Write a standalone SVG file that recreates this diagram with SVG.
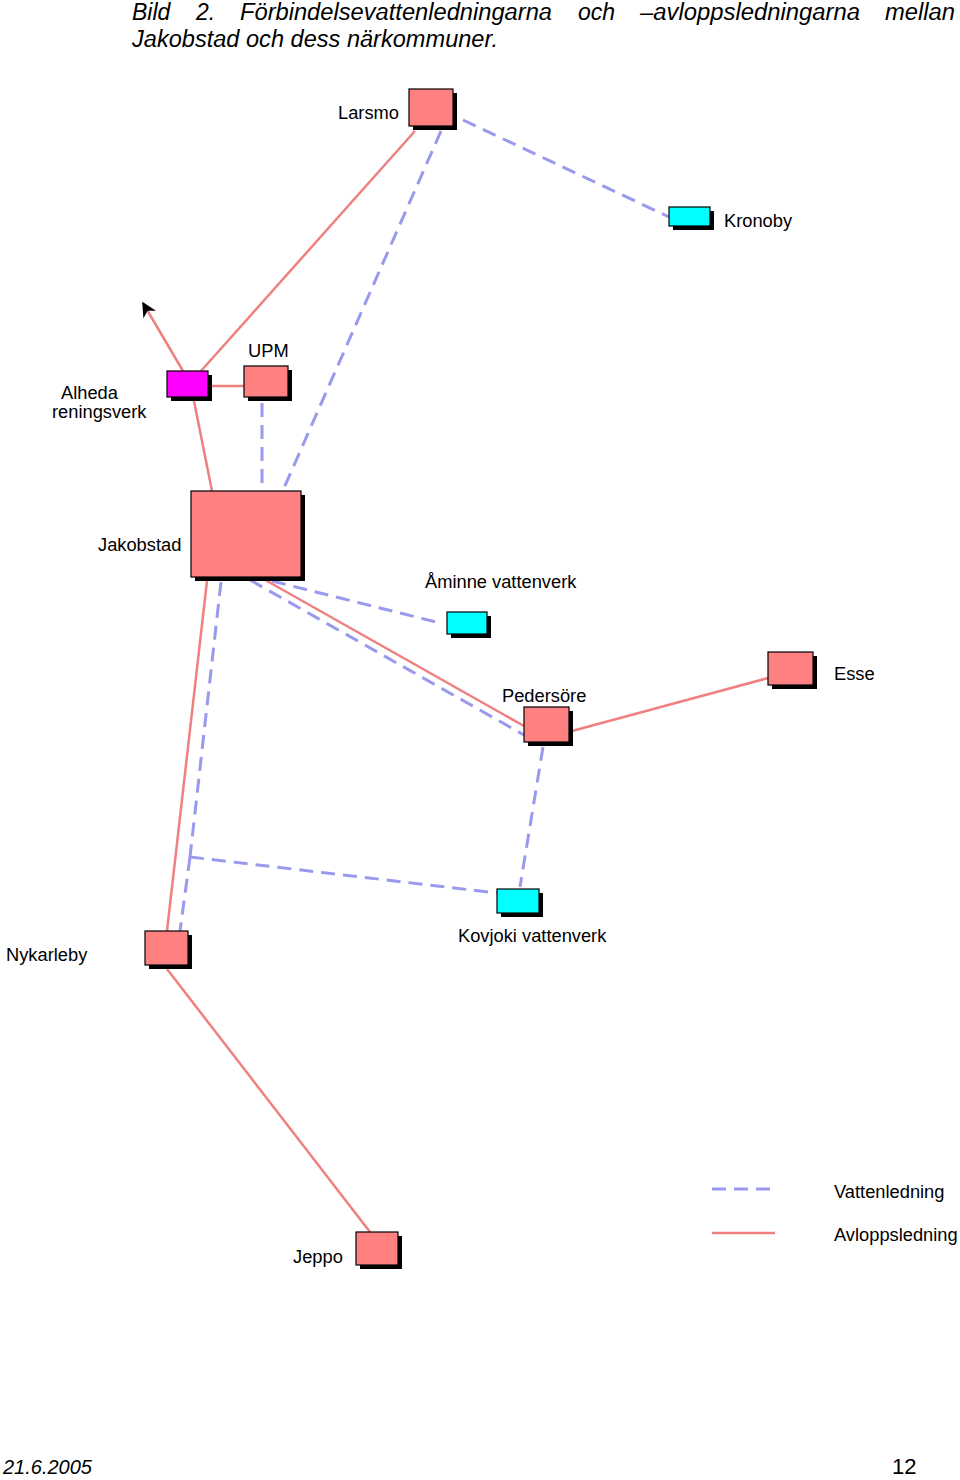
<svg xmlns="http://www.w3.org/2000/svg" width="960" height="1480" viewBox="0 0 960 1480">
<style>
.sh{fill:#000}
.r{fill:#FF8080;stroke:#000;stroke-width:1.2}
.m{fill:#FF00FF;stroke:#000;stroke-width:1.2}
.c{fill:#00FFFF;stroke:#000;stroke-width:1.2}
.lbl{font-family:"Liberation Sans",Arial,sans-serif;font-size:18.3px;fill:#000}
.ttl{font-family:"Liberation Sans",Arial,sans-serif;font-size:23px;font-style:italic;fill:#000}
.av{stroke:#F08080;stroke-width:2.5;fill:none}
.va{stroke:#9999EE;stroke-width:3;fill:none;stroke-dasharray:14 8}
</style>
<defs>
<marker id="arr" viewBox="0 0 10 10" refX="9" refY="5" markerWidth="6" markerHeight="6" orient="auto" markerUnits="strokeWidth">
<path d="M0,0 L10,5 L0,10 L3,5 Z" fill="#000"/>
</marker>
</defs>
<rect width="960" height="1480" fill="#fff"/>
<g id="title" class="ttl">
<text x="132" y="20">Bild</text>
<text x="196" y="20">2.</text>
<text x="240" y="20" textLength="312" lengthAdjust="spacingAndGlyphs">Förbindelsevattenledningarna</text>
<text x="578" y="20">och</text>
<text x="640" y="20" textLength="220" lengthAdjust="spacingAndGlyphs">–avloppsledningarna</text>
<text x="885" y="20" textLength="70" lengthAdjust="spacingAndGlyphs">mellan</text>
<text x="132" y="47" textLength="366" lengthAdjust="spacingAndGlyphs">Jakobstad och dess närkommuner.</text>
</g>
<g id="connectors">
<line class="av" x1="415" y1="131" x2="201" y2="371"/>
<line class="av" x1="183" y1="371" x2="143" y2="303" marker-end="url(#arr)"/>
<line class="av" x1="208" y1="386" x2="244" y2="386"/>
<line class="av" x1="194" y1="401" x2="212" y2="491"/>
<line class="av" x1="260" y1="577" x2="524" y2="726"/>
<line class="av" x1="207" y1="581" x2="167" y2="931"/>
<line class="av" x1="572" y1="731" x2="768" y2="678"/>
<line class="av" x1="167" y1="969" x2="370" y2="1232"/>
<line class="va" x1="463" y1="120" x2="669" y2="217"/>
<line class="va" x1="441" y1="131" x2="284" y2="488"/>
<line class="va" x1="262" y1="403" x2="262" y2="490"/>
<line class="va" x1="272" y1="581" x2="440" y2="623"/>
<line class="va" x1="250" y1="580" x2="524" y2="735"/>
<line class="va" x1="543" y1="747" x2="520" y2="887"/>
<line class="va" x1="221" y1="582" x2="190" y2="857"/>
<line class="va" x1="190" y1="857" x2="497" y2="893"/>
<line class="va" x1="190" y1="857" x2="180" y2="931"/>
<line class="va" x1="712" y1="1189" x2="774" y2="1189"/>
<line class="av" x1="712" y1="1233" x2="775" y2="1233"/>
</g>
<g id="larsmo">
<rect class="sh" x="413" y="93" width="44" height="37"/>
<rect class="r" x="409" y="89" width="44" height="37"/>
<text class="lbl" x="338" y="119">Larsmo</text>
</g>
<g id="kronoby">
<rect class="sh" x="673" y="211" width="41" height="19"/>
<rect class="c" x="669" y="207" width="41" height="19"/>
<text class="lbl" x="724" y="227">Kronoby</text>
</g>
<g id="alheda">
<rect class="sh" x="171" y="375" width="41" height="26"/>
<rect class="m" x="167" y="371" width="41" height="26"/>
<text class="lbl" x="61" y="399">Alheda</text>
<text class="lbl" x="52" y="418">reningsverk</text>
</g>
<g id="upm">
<rect class="sh" x="248" y="370" width="44" height="31"/>
<rect class="r" x="244" y="366" width="44" height="31"/>
<text class="lbl" x="248" y="357">UPM</text>
</g>
<g id="jakobstad">
<rect class="sh" x="195" y="495" width="110" height="86"/>
<rect class="r" x="191" y="491" width="110" height="86"/>
<text class="lbl" x="98" y="551">Jakobstad</text>
</g>
<g id="aminne">
<rect class="sh" x="451" y="616" width="40" height="22"/>
<rect class="c" x="447" y="612" width="40" height="22"/>
<text class="lbl" x="425" y="588">Åminne vattenverk</text>
</g>
<g id="pedersore">
<rect class="sh" x="528" y="711" width="45" height="35"/>
<rect class="r" x="524" y="707" width="45" height="35"/>
<text class="lbl" x="502" y="702">Pedersöre</text>
</g>
<g id="esse">
<rect class="sh" x="772" y="656" width="45" height="33"/>
<rect class="r" x="768" y="652" width="45" height="33"/>
<text class="lbl" x="834" y="680">Esse</text>
</g>
<g id="kovjoki">
<rect class="sh" x="501" y="893" width="42" height="24"/>
<rect class="c" x="497" y="889" width="42" height="24"/>
<text class="lbl" x="458" y="942">Kovjoki vattenverk</text>
</g>
<g id="nykarleby">
<rect class="sh" x="149" y="935" width="43" height="34"/>
<rect class="r" x="145" y="931" width="43" height="34"/>
<text class="lbl" x="6" y="961">Nykarleby</text>
</g>
<g id="jeppo">
<rect class="sh" x="360" y="1236" width="42" height="33"/>
<rect class="r" x="356" y="1232" width="42" height="33"/>
<text class="lbl" x="293" y="1263">Jeppo</text>
</g>
<g id="legend">
<text class="lbl" x="834" y="1198">Vattenledning</text>
<text class="lbl" x="834" y="1241">Avloppsledning</text>
</g>
<g id="footer">
<text x="3" y="1474" style="font-family:'Liberation Sans',Arial,sans-serif;font-size:20px;font-style:italic">21.6.2005</text>
<text x="892" y="1474" style="font-family:'Liberation Sans',Arial,sans-serif;font-size:22px">12</text>
</g>
</svg>
